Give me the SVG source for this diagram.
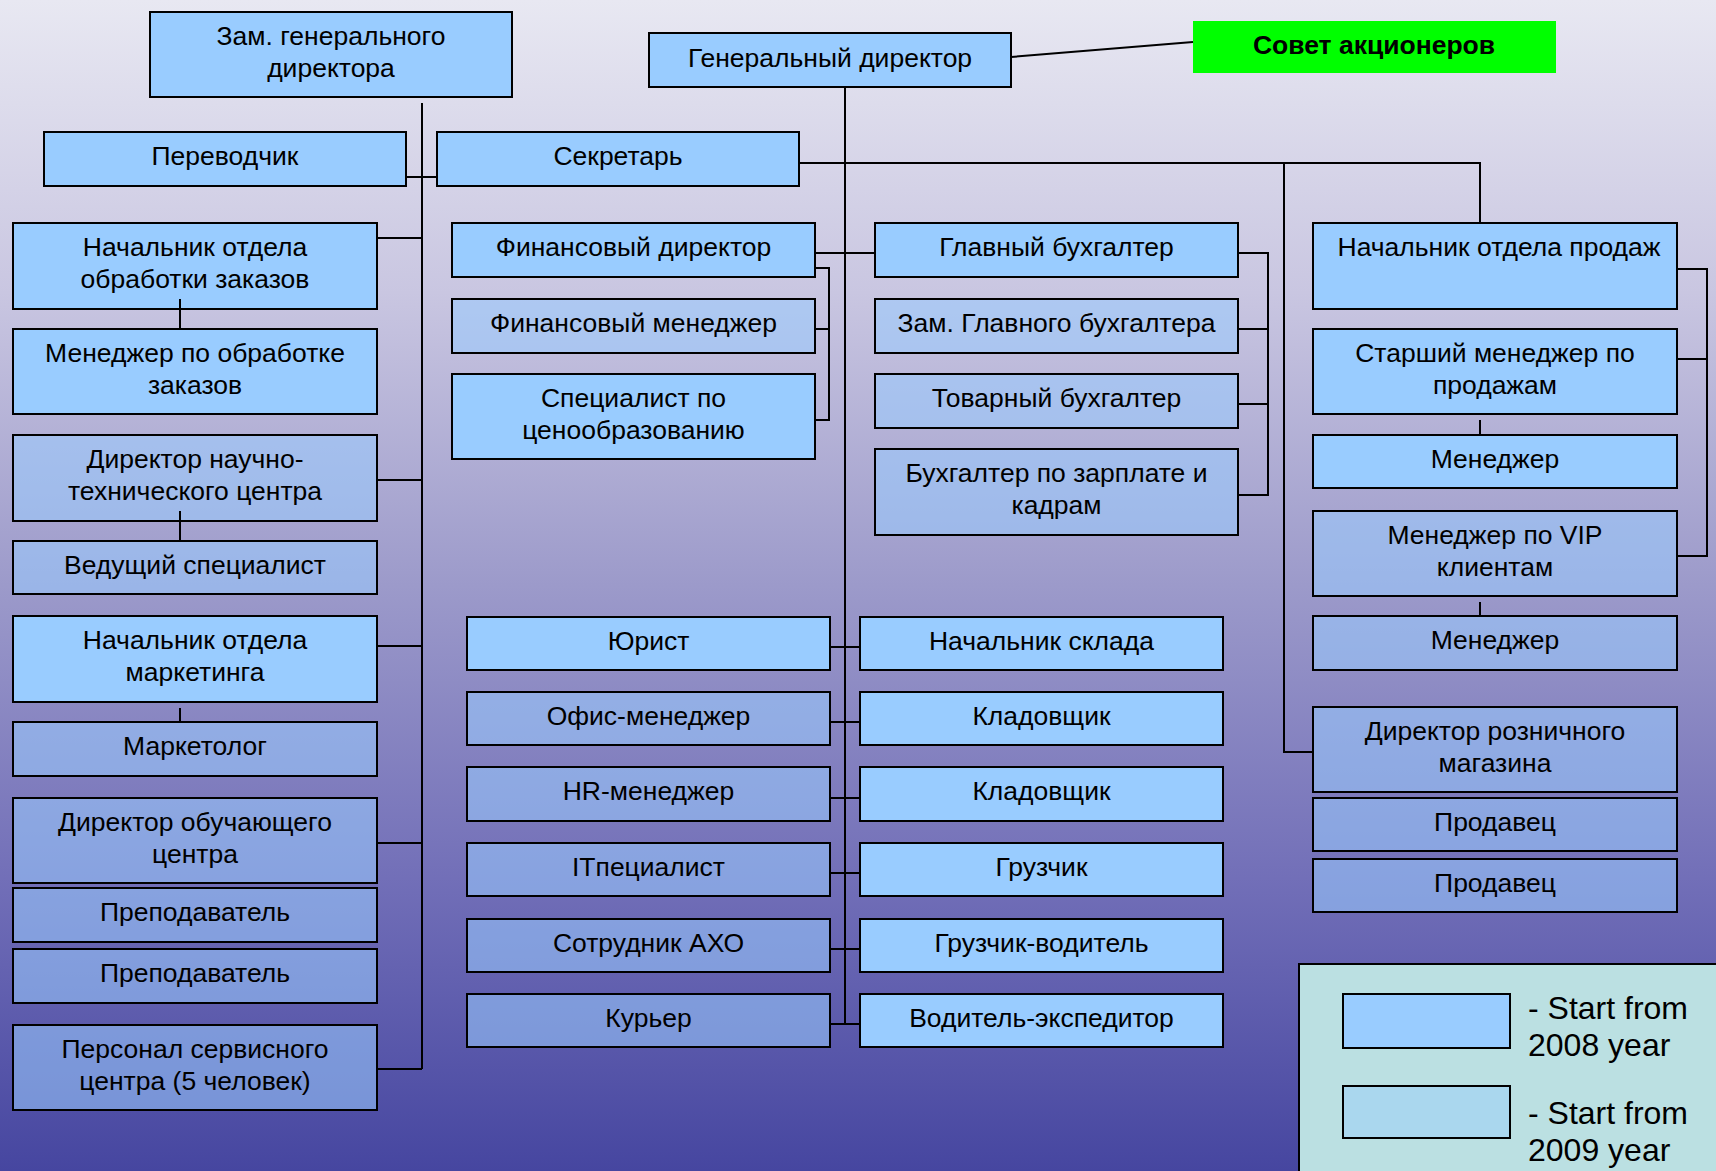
<svg xmlns="http://www.w3.org/2000/svg" width="1716" height="1171" viewBox="0 0 1716 1171">
<defs>
<linearGradient id="bg" x1="0" y1="0" x2="0" y2="1">
<stop offset="0" stop-color="#E8E8F2"/>
<stop offset="0.25" stop-color="#C9C6E1"/>
<stop offset="0.5" stop-color="#9C9ACA"/>
<stop offset="0.75" stop-color="#726FB8"/>
<stop offset="1" stop-color="#4646A0"/>
</linearGradient>
<style>
.n{fill:#99CCFF;stroke:#000;stroke-width:2}
.t{fill:#99CCFF;fill-opacity:0.56;stroke:#000;stroke-width:2}
text{font-family:"Liberation Sans",Arial,sans-serif;font-size:26.5px;fill:#000;text-anchor:middle}
.c line,.c polyline{stroke:#000;stroke-width:2;fill:none}
.lg{font-size:32px;text-anchor:start}
</style>
</defs>
<rect x="0" y="0" width="1716" height="1171" fill="url(#bg)"/>

<g id="nodes">
<g id="zam"><rect class="n" x="150" y="12" width="362" height="85"/><text x="331" y="45">Зам. генерального</text><text x="331" y="77">директора</text></g>
<g id="gd"><rect class="n" x="649" y="33" width="362" height="54"/><text x="830" y="67">Генеральный директор</text></g>
<g id="sovet"><rect x="1193" y="21" width="363" height="52" fill="#00FF00"/><text x="1374" y="54" font-weight="bold">Совет акционеров</text></g>
<g id="perev"><rect class="n" x="44" y="132" width="362" height="54"/><text x="225" y="165">Переводчик</text></g>
<g id="sekr"><rect class="n" x="437" y="132" width="362" height="54"/><text x="618" y="165">Секретарь</text></g>

<g id="nach_obr"><rect class="n" x="13" y="223" width="364" height="86"/><text x="195" y="256">Начальник отдела</text><text x="195" y="288">обработки заказов</text></g>
<g id="men_obr"><rect class="n" x="13" y="329" width="364" height="85"/><text x="195" y="362">Менеджер по обработке</text><text x="195" y="394">заказов</text></g>
<g id="dir_ntc"><rect class="t" x="13" y="435" width="364" height="86"/><text x="195" y="468">Директор научно-</text><text x="195" y="500">технического центра</text></g>
<g id="ved_spec"><rect class="t" x="13" y="541" width="364" height="53"/><text x="195" y="574">Ведущий специалист</text></g>
<g id="nach_mark"><rect class="n" x="13" y="616" width="364" height="86"/><text x="195" y="649">Начальник отдела</text><text x="195" y="681">маркетинга</text></g>
<g id="marketolog"><rect class="t" x="13" y="722" width="364" height="54"/><text x="195" y="755">Маркетолог</text></g>
<g id="dir_obuch"><rect class="t" x="13" y="798" width="364" height="85"/><text x="195" y="831">Директор обучающего</text><text x="195" y="863">центра</text></g>
<g id="prep1"><rect class="t" x="13" y="888" width="364" height="54"/><text x="195" y="921">Преподаватель</text></g>
<g id="prep2"><rect class="t" x="13" y="949" width="364" height="54"/><text x="195" y="982">Преподаватель</text></g>
<g id="personal"><rect class="t" x="13" y="1025" width="364" height="85"/><text x="195" y="1058">Персонал сервисного</text><text x="195" y="1090">центра (5 человек)</text></g>

<g id="fin_dir"><rect class="n" x="452" y="223" width="363" height="54"/><text x="633.5" y="256">Финансовый директор</text></g>
<g id="fin_men"><rect class="t" x="452" y="299" width="363" height="54"/><text x="633.5" y="332">Финансовый менеджер</text></g>
<g id="spec_cen"><rect class="n" x="452" y="374" width="363" height="85"/><text x="633.5" y="407">Специалист по</text><text x="633.5" y="439">ценообразованию</text></g>

<g id="jurist"><rect class="n" x="467" y="617" width="363" height="53"/><text x="648.5" y="650">Юрист</text></g>
<g id="ofis"><rect class="t" x="467" y="692" width="363" height="53"/><text x="648.5" y="725">Офис-менеджер</text></g>
<g id="hr"><rect class="t" x="467" y="767" width="363" height="54"/><text x="648.5" y="800">HR-менеджер</text></g>
<g id="it"><rect class="t" x="467" y="843" width="363" height="53"/><text x="648.5" y="876">ITпециалист</text></g>
<g id="axo"><rect class="t" x="467" y="919" width="363" height="53"/><text x="648.5" y="952">Сотрудник АХО</text></g>
<g id="kurer"><rect class="t" x="467" y="994" width="363" height="53"/><text x="648.5" y="1027">Курьер</text></g>

<g id="glav_buh"><rect class="n" x="875" y="223" width="363" height="54"/><text x="1056.5" y="256">Главный бухгалтер</text></g>
<g id="zam_glav"><rect class="t" x="875" y="299" width="363" height="54"/><text x="1056.5" y="332">Зам. Главного бухгалтера</text></g>
<g id="tovar"><rect class="t" x="875" y="374" width="363" height="54"/><text x="1056.5" y="407">Товарный бухгалтер</text></g>
<g id="buh_zp"><rect class="t" x="875" y="449" width="363" height="86"/><text x="1056.5" y="482">Бухгалтер по зарплате и</text><text x="1056.5" y="514">кадрам</text></g>

<g id="nach_sklad"><rect class="n" x="860" y="617" width="363" height="53"/><text x="1041.5" y="650">Начальник склада</text></g>
<g id="klad1"><rect class="n" x="860" y="692" width="363" height="53"/><text x="1041.5" y="725">Кладовщик</text></g>
<g id="klad2"><rect class="n" x="860" y="767" width="363" height="54"/><text x="1041.5" y="800">Кладовщик</text></g>
<g id="gruzchik"><rect class="n" x="860" y="843" width="363" height="53"/><text x="1041.5" y="876">Грузчик</text></g>
<g id="gruz_vod"><rect class="n" x="860" y="919" width="363" height="53"/><text x="1041.5" y="952">Грузчик-водитель</text></g>
<g id="vod_exp"><rect class="n" x="860" y="994" width="363" height="53"/><text x="1041.5" y="1027">Водитель-экспедитор</text></g>

<g id="nach_prod"><rect class="n" x="1313" y="223" width="364" height="86"/><text x="1499" y="256">Начальник отдела продаж</text></g>
<g id="star_men"><rect class="n" x="1313" y="329" width="364" height="85"/><text x="1495" y="362">Старший менеджер по</text><text x="1495" y="394">продажам</text></g>
<g id="men1"><rect class="n" x="1313" y="435" width="364" height="53"/><text x="1495" y="468">Менеджер</text></g>
<g id="men_vip"><rect class="t" x="1313" y="511" width="364" height="85"/><text x="1495" y="544">Менеджер по VIP</text><text x="1495" y="576">клиентам</text></g>
<g id="men2"><rect class="t" x="1313" y="616" width="364" height="54"/><text x="1495" y="649">Менеджер</text></g>
<g id="dir_rozn"><rect class="t" x="1313" y="707" width="364" height="85"/><text x="1495" y="740">Директор розничного</text><text x="1495" y="772">магазина</text></g>
<g id="prod1"><rect class="t" x="1313" y="798" width="364" height="53"/><text x="1495" y="831">Продавец</text></g>
<g id="prod2"><rect class="t" x="1313" y="859" width="364" height="53"/><text x="1495" y="892">Продавец</text></g>
</g>

<g id="connectors" class="c">
<line x1="1011" y1="57" x2="1193" y2="42"/>
<line x1="845" y1="87" x2="845" y2="1024"/>
<line x1="422" y1="103" x2="422" y2="1069"/>
<line x1="407" y1="177" x2="437" y2="177"/>
<polyline points="800,163 1480,163 1480,223"/>
<polyline points="1284,163 1284,752 1313,752"/>
<line x1="377" y1="238" x2="422" y2="238"/>
<line x1="377" y1="480" x2="422" y2="480"/>
<line x1="377" y1="646" x2="422" y2="646"/>
<line x1="377" y1="843" x2="422" y2="843"/>
<line x1="377" y1="1069" x2="422" y2="1069"/>
<line x1="180" y1="299" x2="180" y2="329"/>
<line x1="180" y1="511" x2="180" y2="541"/>
<line x1="180" y1="708" x2="180" y2="722"/>
<line x1="815" y1="253" x2="875" y2="253"/>
<polyline points="815,268 829,268 829,420 815,420"/>
<line x1="815" y1="329" x2="829" y2="329"/>
<polyline points="1238,253 1268,253 1268,495 1238,495"/>
<line x1="1238" y1="329" x2="1268" y2="329"/>
<line x1="1238" y1="404" x2="1268" y2="404"/>
<line x1="830" y1="647" x2="860" y2="647"/>
<line x1="830" y1="722" x2="860" y2="722"/>
<line x1="830" y1="798" x2="860" y2="798"/>
<line x1="830" y1="873" x2="860" y2="873"/>
<line x1="830" y1="949" x2="860" y2="949"/>
<line x1="830" y1="1024" x2="860" y2="1024"/>
<polyline points="1677,269 1707,269 1707,556 1677,556"/>
<line x1="1677" y1="359" x2="1707" y2="359"/>
<line x1="1480" y1="420" x2="1480" y2="435"/>
<line x1="1480" y1="602" x2="1480" y2="616"/>
</g>

<g id="legend">
<rect x="1299" y="964" width="430" height="220" fill="#BBE0E2" stroke="#000" stroke-width="2"/>
<rect x="1343" y="994" width="167" height="54" fill="#99CCFF" stroke="#000" stroke-width="2"/>
<rect x="1343" y="1086" width="167" height="52" fill="#AAD7EE" stroke="#000" stroke-width="2"/>
<text class="lg" x="1528" y="1019">- Start from</text>
<text class="lg" x="1528" y="1056">2008 year</text>
<text class="lg" x="1528" y="1124">- Start from</text>
<text class="lg" x="1528" y="1161">2009 year</text>
</g>
</svg>
